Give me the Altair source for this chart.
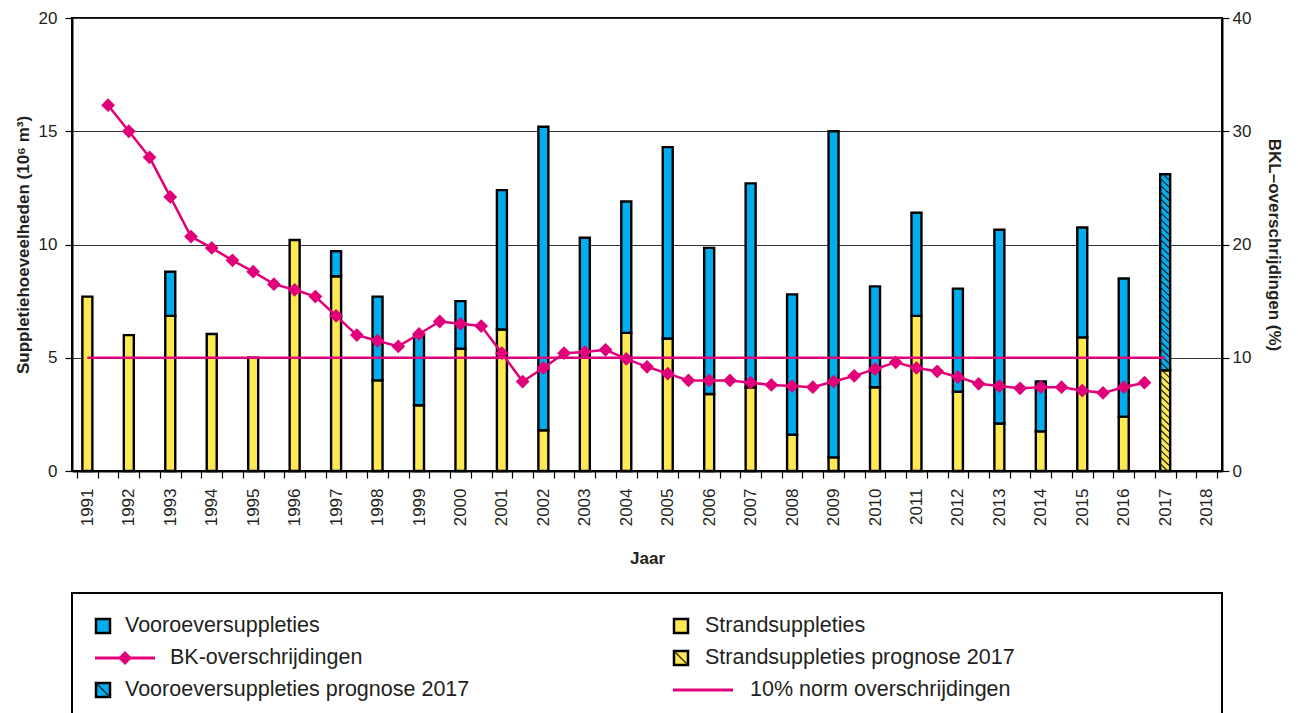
import altair as alt
import pandas as pd

# ---------------- data ----------------
years = [1991, 1992, 1993, 1994, 1995, 1996, 1997, 1998, 1999, 2000,
         2001, 2002, 2003, 2004, 2005, 2006, 2007, 2008, 2009, 2010,
         2011, 2012, 2013, 2014, 2015, 2016, 2017]
strand = [7.7, 6.0, 6.85, 6.05, 5.0, 10.2, 8.6, 4.0, 2.9, 5.4,
          6.25, 1.8, 5.0, 6.1, 5.85, 3.4, 3.7, 1.6, 0.6, 3.7,
          6.85, 3.5, 2.1, 1.75, 5.9, 2.4, 4.45]
vooroever = [0.0, 0.0, 1.95, 0.0, 0.0, 0.0, 1.1, 3.7, 3.1, 2.1,
             6.15, 13.4, 5.3, 5.8, 8.45, 6.45, 9.0, 6.2, 14.4, 4.45,
             4.55, 4.55, 8.55, 2.2, 4.85, 6.1, 8.65]
prognose_year = 2017

bk_x = [1991.5, 1992.0, 1992.5, 1993.0, 1993.5, 1994.0, 1994.5, 1995.0, 1995.5, 1996.0,
        1996.5, 1997.0, 1997.5, 1998.0, 1998.5, 1999.0, 1999.5, 2000.0, 2000.5, 2001.0,
        2001.5, 2002.0, 2002.5, 2003.0, 2003.5, 2004.0, 2004.5, 2005.0, 2005.5, 2006.0,
        2006.5, 2007.0, 2007.5, 2008.0, 2008.5, 2009.0, 2009.5, 2010.0, 2010.5, 2011.0,
        2011.5, 2012.0, 2012.5, 2013.0, 2013.5, 2014.0, 2014.5, 2015.0, 2015.5, 2016.0,
        2016.5]
bk_y = [32.3, 30.0, 27.7, 24.2, 20.7, 19.7, 18.6, 17.6, 16.5, 16.0,
        15.4, 13.7, 12.0, 11.5, 11.0, 12.1, 13.2, 13.0, 12.8, 10.4,
        7.9, 9.1, 10.4, 10.5, 10.7, 9.9, 9.2, 8.6, 8.0, 8.0,
        8.0, 7.8, 7.6, 7.5, 7.4, 7.9, 8.4, 9.0, 9.6, 9.1,
        8.8, 8.3, 7.7, 7.5, 7.3, 7.4, 7.4, 7.1, 6.9, 7.4,
        7.8]

norm_x = [1991, 2017]
norm_y = [10, 10]

left_ticks = [0, 5, 10, 15, 20]
right_ticks = [0, 10, 20, 30, 40]
x_domain = [1990.75, 2018.25]

legend_labels = ["Vooroeversuppleties", "Strandsuppleties",
                 "BK-overschrijdingen", "Strandsuppleties prognose 2017",
                 "Vooroeversuppleties prognose 2017", "10% norm overschrijdingen"]

# ---------------- styles ----------------
BLUE = "#00AEEF"
YELLOW = "#FFE952"
PINK = "#E2007A"
INK = "#231F20"
FONT = "Liberation Sans"
W, H = 1150, 453

# ---------------- tables ----------------
rows = []
for i, yr in enumerate(years):
    rows.append(dict(year=yr, kind="Strandsuppleties", value=strand[i], ord=0))
    if vooroever[i] > 0:
        rows.append(dict(year=yr, kind="Vooroeversuppleties", value=vooroever[i], ord=1))
bars_df = pd.DataFrame(rows)

# hatch segments for the forecast bar (decoration of the 2017 bar)
ip = years.index(prognose_year)
top_p = strand[ip] + vooroever[ip]
half_w, drop, step = 0.12, 0.42, 0.3
hatch_rows = []
ys = top_p + drop
while ys > 0:
    t0 = max(0.0, (ys - top_p) / drop)
    t1 = min(1.0, ys / drop)
    if t1 > t0:
        hatch_rows.append(dict(hx1=prognose_year - half_w + 2 * half_w * t0,
                               hx2=prognose_year - half_w + 2 * half_w * t1,
                               hy1=ys - drop * t0, hy2=ys - drop * t1))
    ys -= step
hatch_df = pd.DataFrame(hatch_rows)

bk_df = pd.DataFrame(dict(x=bk_x, pct=bk_y))
norm_df = pd.DataFrame(dict(x=norm_x, pct=norm_y))

# ---------------- scales / axes ----------------
tick_vals = [x_domain[0] + 0.5 * k for k in range(56)]
x_scale = alt.Scale(domain=x_domain, nice=False, zero=False)
x_axis = alt.Axis(values=tick_vals,
                  labelExpr="(datum.value % 1) > 0.5 ? toString(floor(datum.value) + 1) : ''",
                  labelAngle=270, labelOffset=10.45, labelOverlap=False,
                  labelFontSize=17, labelColor=INK, labelPadding=10, labelFont=FONT,
                  tickSize=7, tickColor="black", tickWidth=1.2,
                  domainColor="black", domainWidth=2, grid=False,
                  title="Jaar", titleFontSize=17, titleFontWeight="bold", titleColor=INK,
                  titlePadding=25, titleFont=FONT)
yl_scale = alt.Scale(domain=[0, 20], nice=False, zero=True)
yl_axis = alt.Axis(values=left_ticks, tickSize=7, tickColor="black", tickWidth=1.2,
                   labelPadding=8, labelFontSize=17, labelColor=INK, labelFont=FONT,
                   grid=True, gridColor="#333333", gridWidth=1,
                   domainColor="black", domainWidth=2,
                   title="Suppletiehoeveelheden (10⁶ m³)", titleFontSize=17,
                   titleFontWeight="bold", titleColor=INK, titlePadding=6, titleFont=FONT)
yr_scale = alt.Scale(domain=[0, 40], nice=False, zero=True)
yr_axis = alt.Axis(orient="right", values=right_ticks, tickSize=7, tickColor="black",
                   tickWidth=1.2, labelPadding=3, labelFontSize=17, labelColor=INK,
                   labelFont=FONT, grid=False, domainColor="black", domainWidth=2,
                   title="BKL–overschrijdingen (%)", titleFontSize=17,
                   titleFontWeight="bold", titleColor=INK, titlePadding=14, titleFont=FONT)

bars = alt.Chart(bars_df).mark_bar(size=10, stroke="black", strokeWidth=2.4).encode(
    x=alt.X("year:Q", scale=x_scale, axis=x_axis),
    y=alt.Y("value:Q", stack="zero", scale=yl_scale, axis=yl_axis),
    color=alt.Color("kind:N",
                    scale=alt.Scale(domain=["Strandsuppleties", "Vooroeversuppleties"],
                                    range=[YELLOW, BLUE]),
                    legend=None),
    order=alt.Order("ord:Q"),
)

hatch = alt.Chart(hatch_df).mark_rule(color=INK, strokeWidth=1.2).encode(
    x=alt.X("hx1:Q", scale=x_scale, axis=x_axis),
    x2="hx2:Q",
    y=alt.Y("hy1:Q", scale=yl_scale, axis=yl_axis),
    y2="hy2:Q",
)

norm = alt.Chart(norm_df).mark_line(color=PINK, strokeWidth=2.5).encode(
    x=alt.X("x:Q", scale=x_scale, axis=x_axis),
    y=alt.Y("pct:Q", scale=yr_scale, axis=yr_axis),
)
bk_line = alt.Chart(bk_df).mark_line(color=PINK, strokeWidth=2.5).encode(
    x=alt.X("x:Q", scale=x_scale, axis=x_axis),
    y=alt.Y("pct:Q", scale=yr_scale, axis=yr_axis),
)
bk_pts = alt.Chart(bk_df).mark_point(shape="diamond", filled=True, size=190,
                                     color=PINK, opacity=1).encode(
    x=alt.X("x:Q", scale=x_scale, axis=x_axis),
    y=alt.Y("pct:Q", scale=yr_scale, axis=yr_axis),
)

top = alt.layer(alt.layer(bars, hatch), alt.layer(norm, bk_line, bk_pts)).resolve_scale(
    y="independent").properties(width=W, height=H)

# ---------------- manual legend panel ----------------
LW, LH = 1150, 130
col_sym = [31, 609]
row_y = [33, 65, 97]
sw = 7
swatches = pd.DataFrame([
    dict(label=legend_labels[0], cx=col_sym[0], cy=row_y[0], fill=BLUE, hatched=False),
    dict(label=legend_labels[1], cx=col_sym[1], cy=row_y[0], fill=YELLOW, hatched=False),
    dict(label=legend_labels[3], cx=col_sym[1], cy=row_y[1], fill=YELLOW, hatched=True),
    dict(label=legend_labels[4], cx=col_sym[0], cy=row_y[2], fill=BLUE, hatched=True),
])
swatches["x1"] = swatches.cx - sw
swatches["x2"] = swatches.cx + sw
swatches["y1"] = swatches.cy - sw
swatches["y2"] = swatches.cy + sw
lx = alt.Scale(domain=[0, LW], nice=False, zero=True)
ly = alt.Scale(domain=[0, LH], nice=False, reverse=True)

sw_layer = alt.Chart(swatches).mark_rect(stroke="black", strokeWidth=2.5).encode(
    x=alt.X("x1:Q", scale=lx, axis=None), x2="x2:Q",
    y=alt.Y("y1:Q", scale=ly, axis=None), y2="y2:Q",
    fill=alt.Fill("fill:N", scale=None),
)
sw_hatch = alt.Chart(swatches[swatches.hatched]).mark_rule(color=INK, strokeWidth=1.3).encode(
    x=alt.X("x1:Q", scale=lx, axis=None), x2="x2:Q",
    y=alt.Y("y1:Q", scale=ly, axis=None), y2="y2:Q",
)
line_items = pd.DataFrame([
    dict(label=legend_labels[2], xa=23, xb=83, y=row_y[1]),
    dict(label=legend_labels[5], xa=601, xb=661, y=row_y[2]),
])
leg_lines = alt.Chart(line_items).mark_rule(color=PINK, strokeWidth=3).encode(
    x=alt.X("xa:Q", scale=lx, axis=None), x2="xb:Q",
    y=alt.Y("y:Q", scale=ly, axis=None),
)
leg_diamond = alt.Chart(pd.DataFrame([dict(x=53, y=row_y[1])])).mark_point(
    shape="diamond", filled=True, size=190, color=PINK, opacity=1).encode(
    x=alt.X("x:Q", scale=lx, axis=None),
    y=alt.Y("y:Q", scale=ly, axis=None),
)
texts = pd.DataFrame([
    dict(label=legend_labels[0], tx=53, ty=row_y[0]),
    dict(label=legend_labels[1], tx=633, ty=row_y[0]),
    dict(label=legend_labels[2], tx=98, ty=row_y[1]),
    dict(label=legend_labels[3], tx=633, ty=row_y[1]),
    dict(label=legend_labels[4], tx=53, ty=row_y[2]),
    dict(label=legend_labels[5], tx=678, ty=row_y[2]),
])
leg_text = alt.Chart(texts).mark_text(align="left", baseline="middle", fontSize=21.5,
                                      font=FONT, color=INK).encode(
    x=alt.X("tx:Q", scale=lx, axis=None),
    y=alt.Y("ty:Q", scale=ly, axis=None),
    text="label:N",
)
legend = alt.layer(sw_layer, sw_hatch, leg_lines, leg_diamond, leg_text).properties(
    width=LW, height=LH)

chart = alt.vconcat(top, legend, spacing=24).properties(
    padding={"left": 5, "top": 0, "right": 3, "bottom": 0},
    background="white",
).configure(font=FONT).configure_view(stroke="black", strokeWidth=2)

chart.save("out.html", embed_options={"renderer": "svg", "actions": False})
